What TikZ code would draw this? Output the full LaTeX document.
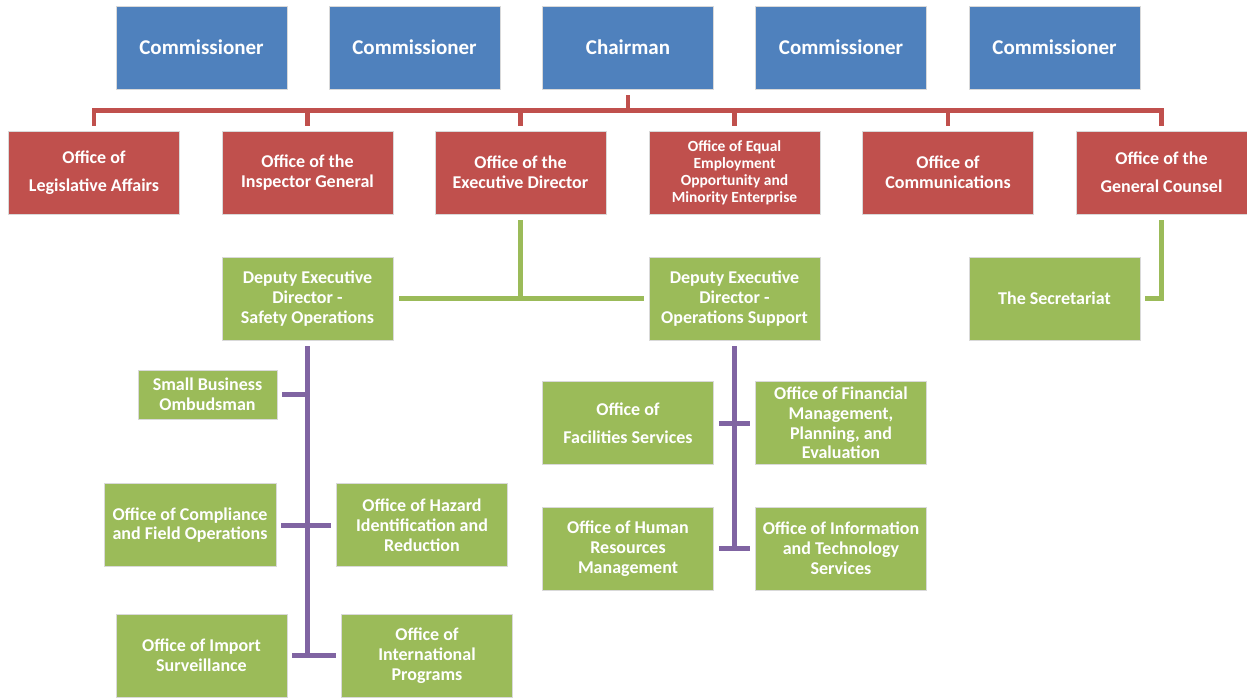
\documentclass[tikz,border=0pt]{standalone}
\usepackage{fontspec}
\setmainfont{Carlito}
\definecolor{cblue}{HTML}{4F81BD}
\definecolor{cred}{HTML}{C0504D}
\definecolor{cgreen}{HTML}{9BBB59}
\definecolor{cpurple}{HTML}{8064A2}
\begin{document}
\begin{tikzpicture}[x=1pt,y=-1pt,
  box/.style={rectangle,inner sep=0pt,minimum width=171pt,minimum height=83pt,
    text=white,align=center,draw=white!85!black,line width=0.6pt},
  bluebox/.style={box,fill=cblue,font=\fontsize{21}{23}\selectfont\bfseries},
  redbox/.style={box,fill=cred,font=\fontsize{18}{19.8}\selectfont\bfseries},
  greenbox/.style={box,fill=cgreen,font=\fontsize{18}{19.8}\selectfont\bfseries},
  redline/.style={draw=cred,line width=4.5pt},
  greenline/.style={draw=cgreen,line width=4.5pt},
  purpline/.style={draw=cpurple,line width=5pt}]
\useasboundingbox (0,0) rectangle (1247,697);
% top row
\node[bluebox] (c1) at (201.5,47.5) {Commissioner};
\node[bluebox] (c2) at (414.5,47.5) {Commissioner};
\node[bluebox] (chair) at (628,47.5) {Chairman};
\node[bluebox] (c3) at (841,47.5) {Commissioner};
\node[bluebox] (c4) at (1054.5,47.5) {Commissioner};
% red row
\node[redbox] (leg) at (94,172.5) {Office of\\[8pt]Legislative Affairs};
\node[redbox] (ig) at (307.5,172.5) {Office of the\\Inspector General};
\node[redbox] (ed) at (520.5,172.5) {Office of the\\Executive Director};
\node[redbox,font=\fontsize{15.5}{17}\selectfont\bfseries] (eeo) at (734.5,172.5) {Office of Equal\\Employment\\Opportunity and\\Minority Enterprise};
\node[redbox] (comm) at (948,172.5) {Office of\\Communications};
\node[redbox] (gc) at (1161.5,172.5) {Office of the\\[8pt]General Counsel};
% green row
\node[greenbox] (ds) at (307.5,298.5) {Deputy Executive\\Director -\\ Safety Operations};
\node[greenbox] (dos) at (734.5,298.5) {Deputy Executive\\Director -\\Operations Support};
\node[greenbox] (sec) at (1054.5,298.5) {The Secretariat};
% safety branch
\node[greenbox,minimum width=139pt,minimum height=49pt] (sb) at (207.5,394.5) {Small Business\\Ombudsman};
\node[greenbox,minimum width=172pt] (comp) at (190,525) {Office of Compliance\\and Field Operations};
\node[greenbox] (haz) at (422,525) {Office of Hazard\\Identification and\\Reduction};
\node[greenbox] (imp) at (201.5,655.5) {Office of Import\\Surveillance};
\node[greenbox] (intl) at (427,655.5) {Office of\\International\\Programs};
% operations branch
\node[greenbox] (fac) at (628,423) {Office of\\[8pt]Facilities Services};
\node[greenbox] (fin) at (841,423) {Office of Financial\\Management,\\Planning, and\\Evaluation};
\node[greenbox] (hr) at (628,548.5) {Office of Human\\Resources\\Management};
\node[greenbox] (it) at (841,548.5) {Office of Information\\and Technology\\Services};
% red connectors
\coordinate (bar) at (628,110.5);
\draw[redline] ([yshift=-6pt]chair.south) -- (chair.south |- bar);
\draw[redline] ([yshift=5pt]leg.north) -- (leg.north |- bar) -- (gc.north |- bar) -- ([yshift=5pt]gc.north);
\foreach \n in {ig,ed,eeo,comm}
  \draw[redline] ([yshift=5pt]\n.north) -- (\n.north |- bar);
% green connectors
\draw[greenline] ([yshift=-6pt]ed.south) -- (ed.south |- ds.east);
\draw[greenline] ([xshift=6pt]ds.east) -- ([xshift=-5pt]dos.west);
\draw[greenline] ([yshift=-6pt]gc.south) -- (gc.south |- sec.east) -- ([xshift=5pt]sec.east);
% purple connectors
\draw[purpline] ([yshift=-6pt]ds.south) -- (ds.south |- imp.east);
\draw[purpline] ([xshift=5pt]sb.east) -- (ds.south |- sb.east);
\draw[purpline] ([xshift=5pt]comp.east) -- ([xshift=-5pt]haz.west);
\draw[purpline] ([xshift=5pt]imp.east) -- ([xshift=-5pt]intl.west);
\draw[purpline] ([yshift=-6pt]dos.south) -- (dos.south |- hr.east);
\draw[purpline] ([xshift=5pt]fac.east) -- ([xshift=-5pt]fin.west);
\draw[purpline] ([xshift=5pt]hr.east) -- ([xshift=-5pt]it.west);
\end{tikzpicture}
\end{document}
